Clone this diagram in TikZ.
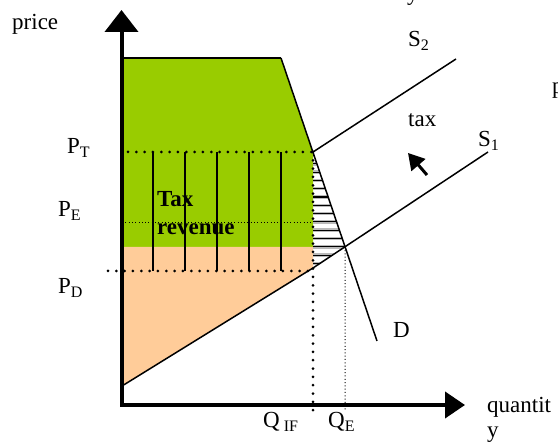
\documentclass[tikz,border=0pt]{standalone}
\usepackage{fontspec}
\setmainfont{Liberation Serif}
\usetikzlibrary{arrows.meta,calc}
\definecolor{grn}{HTML}{99CC00}
\definecolor{peach}{HTML}{FFCC99}
\newcommand{\sbs}[1]{\raisebox{-4pt}{\fontsize{16}{16}\selectfont #1}}
\begin{document}
\begin{tikzpicture}[x=1pt,y=-1pt,
  lbl/.style={inner sep=0pt,anchor=base west,font=\fontsize{23}{27}\selectfont},
  boldlbl/.style={lbl,font=\fontsize{23}{27}\selectfont\bfseries},
  bigdot/.style={line width=3pt,line cap=round,dash pattern=on 0pt off 8.33pt},
  smalldot/.style={line width=1pt,dash pattern=on 1pt off 2.3pt},
  curve/.style={line width=1.5pt},
  axis/.style={line width=4pt,line join=miter},
  bar/.style={line width=1.3pt}]
\useasboundingbox (0,0) rectangle (558,443);
% key points
\coordinate (GTL) at (122,58);
\coordinate (GTR) at (281,58);
\coordinate (A) at (313,152);
\coordinate (B) at (313,268);
\coordinate (S1s) at (122,386);
\coordinate (S1e) at (488,152);
\coordinate (S2e) at (456,59);
\coordinate (Dend) at (377,341);
\coordinate (E) at (intersection of A--Dend and B--S1e);
\coordinate (G) at (GTL |- E);
\coordinate (Ab) at (A |- E);
% fills
\fill[grn] (GTL) -- (GTR) -- (A) -- (Ab) -- (G) -- cycle;
\fill[peach] (G) -- (Ab) -- (B) -- (S1s) -- cycle;
% hatching
\begin{scope}
  \clip (A) -- (E) -- (B) -- cycle;
  \foreach \y in {155.5,163.8,...,272} {
    \draw[gray!55,line width=3.5pt] (300,\y) -- (360,\y);
    \draw[line width=1.1pt] (300,\y) -- (360,\y);
  }
\end{scope}
% vertical bars in tax revenue
\foreach \x in {153,185,217,249,281} \draw[bar] (\x,152) -- (\x,271);
% dotted guides
\coordinate (PTs) at (128,152);
\coordinate (PEs) at (122,223);
\coordinate (PEe) at (313,223);
\coordinate (PDs) at (108,271);
\coordinate (PDe) at (313,271);
\coordinate (QIFb) at (313,412);
\coordinate (QEb) at (345,410);
\draw[bigdot] (PTs) -- (A);
\draw[smalldot] (PEs) -- (PEe);
\draw[bigdot] (PDs) -- (PDe);
\draw[bigdot] (A) -- (QIFb);
\draw[smalldot] (E) -- (QEb);
% curves
\draw[line width=1.2pt] (GTL) -- (GTR);
\draw[curve] (GTR) -- (Dend);
\draw[curve] (S1s) -- (B) -- (S1e);
\draw[curve] (A) -- (S2e);
% axes
\coordinate (Ytip) at (121.5,10);
\coordinate (O) at (121.5,405);
\coordinate (Xtip) at (465,405);
\draw[axis,{Triangle[length=22pt,width=33pt]}-{Triangle[length=20pt,width=26pt]}] (Ytip) -- (O) -- (Xtip);
% tax arrow
\coordinate (ct) at (427,175);
\coordinate (ch) at (408,153);
\draw[line width=3pt,-{Triangle[length=16pt,width=18pt]}] (ct) -- (ch);
% labels
\node[lbl] (price) at (12,30) {price};
\node[lbl] (pt) at (67,154) {P\sbs{T}};
\node[lbl] (pe) at (58,217) {P\sbs{E}};
\node[lbl] (pd) at (58,294) {P\sbs{D}};
\node[boldlbl] (tax1) at (157,207) {Tax};
\node[boldlbl] (tax2) at (157,235) {revenue};
\node[lbl] (s2) at (408,47) {S\sbs{2}};
\node[lbl] (tax) at (408,127) {tax};
\node[lbl] (s1) at (478,147) {S\sbs{1}};
\node[lbl] (d) at (393,338) {D};
\node[lbl] (qif) at (263,428) {Q\hspace{4pt}\sbs{IF}};
\node[lbl] (qe) at (328,428) {Q\sbs{E}};
\node[lbl] (qty1) at (487,413) {quantit};
\node[lbl] (qty2) at (487,438) {y};
\node[lbl] (ytop) at (407,1) {y};
\node[lbl] (pright) at (552,94) {p};
\end{tikzpicture}
\end{document}
